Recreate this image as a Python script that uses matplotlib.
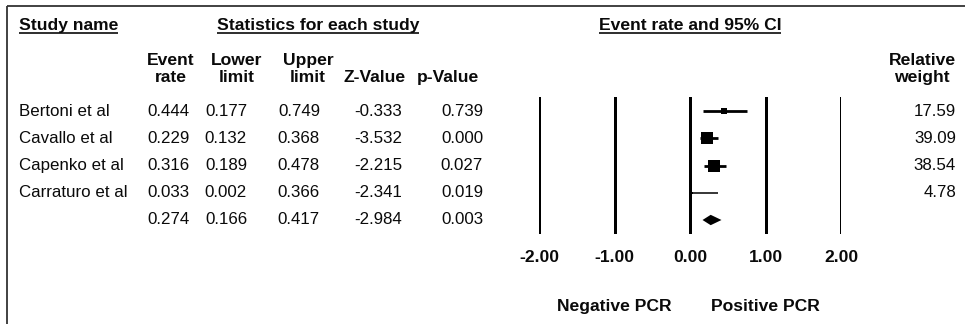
import matplotlib
matplotlib.use("Agg")
import matplotlib.pyplot as plt
import numpy as np

plt.rcParams['font.family'] = ['Liberation Sans', 'DejaVu Sans']

# ---- data ----
studies = ["Bertoni et al", "Cavallo et al", "Capenko et al", "Carraturo et al", ""]
event_rate = [0.444, 0.229, 0.316, 0.033, 0.274]
lower = [0.177, 0.132, 0.189, 0.002, 0.166]
upper = [0.749, 0.368, 0.478, 0.366, 0.417]
z_value = [-0.333, -3.532, -2.215, -2.341, -2.984]
p_value = [0.739, 0.000, 0.027, 0.019, 0.003]
rel_weight = [17.59, 39.09, 38.54, 4.78]
xticks = [-2.0, -1.0, 0.0, 1.0, 2.0]
tick_labels = ["-2.00", "-1.00", "0.00", "1.00", "2.00"]
col_heads = [("Event", "rate"), ("Lower", "limit"), ("Upper", "limit"), ("", "Z-Value"), ("", "p-Value")]

W, H = 965, 324
fig = plt.figure(figsize=(W / 100, H / 100), dpi=100)
fig.patch.set_facecolor("white")

# overlay axes in pixel coordinates for table text
tax = fig.add_axes([0, 0, 1, 1])
tax.set_xlim(0, W)
tax.set_ylim(H, 0)
tax.axis("off")

FS = 12.2
HFS = 12.6
col = "#0a0a0a"

# border (top and left)
tax.plot([7, W], [6, 6], color="#333333", lw=1.3, solid_capstyle="butt")
tax.plot([7, 7], [6, H], color="#333333", lw=1.3, solid_capstyle="butt")

# section headers with underline
headers = [("Study name", 19, "left"), ("Statistics for each study", 318, "center"),
           ("Event rate and 95% CI", 690, "center")]
htexts = []
for txt, x, ha in headers:
    t = tax.text(x, 30, txt, ha=ha, va="baseline", fontsize=HFS, fontweight="bold", color=col)
    htexts.append(t)

# column headers
col_x_right = [190, 247, 320, 402, 483]
col_x_center = [171, 237, 308, 375, 448]
for (l1, l2), xc in zip(col_heads, col_x_center):
    if l1:
        tax.text(xc, 65, l1, ha="center", va="baseline", fontsize=HFS, fontweight="bold", color=col)
    tax.text(xc, 82, l2, ha="center", va="baseline", fontsize=HFS, fontweight="bold", color=col)
tax.text(922, 65, "Relative", ha="center", va="baseline", fontsize=HFS, fontweight="bold", color=col)
tax.text(922, 82, "weight", ha="center", va="baseline", fontsize=HFS, fontweight="bold", color=col)

row_y = [111 + 27.25 * i for i in range(len(studies))]
for i, y in enumerate(row_y):
    tax.text(19, y, studies[i], ha="left", va="center", fontsize=FS, color=col)
    vals = [f"{event_rate[i]:.3f}", f"{lower[i]:.3f}", f"{upper[i]:.3f}",
            f"{z_value[i]:.3f}", f"{p_value[i]:.3f}"]
    for v, xr in zip(vals, col_x_right):
        tax.text(xr, y, v, ha="right", va="center", fontsize=FS, color=col)
    if i < len(rel_weight):
        tax.text(956, y, f"{rel_weight[i]:.2f}", ha="right", va="center", fontsize=FS, color=col)

# forest axes
x_left, x_right = 539, 841
y_top, y_bot = 97, 234
fax = fig.add_axes([x_left / W, (H - y_bot) / H, (x_right - x_left) / W, (y_bot - y_top) / H])
fax.set_xlim(-2, 2)
n = len(studies)
pad_top = (row_y[0] - y_top) / 27.25
pad_bot = (y_bot - row_y[-1]) / 27.25
fax.set_ylim(n - 1 + pad_bot, -pad_top)
fax.axis("off")
fax.patch.set_alpha(0)
for xt in xticks:
    fax.axvline(xt, color="black", lw=2.16, snap=True)
for i in range(len(rel_weight)):
    lw = 2.0 if rel_weight[i] > 10 else 1.1
    fax.plot([lower[i], upper[i]], [i, i], color="black", lw=lw, solid_capstyle="butt")
    ms = 0.78 * rel_weight[i] ** 0.75 * 0.72
    fax.plot(event_rate[i], i, marker="s", color="black", ms=ms, mew=0)
# summary diamond
s = n - 1
dh = 0.19
fax.fill([lower[s], event_rate[s], upper[s], event_rate[s]], [s, s - dh, s, s + dh],
         color="black", lw=0)

# tick labels and direction labels
for xt, lab in zip(xticks, tick_labels):
    fax.text(xt, -0.17, lab, transform=fax.get_xaxis_transform(), ha="center", va="center",
             fontsize=HFS, fontweight="bold", color=col, clip_on=False)
fax.text(-1.0, -0.53, "Negative PCR", transform=fax.get_xaxis_transform(), ha="center",
         va="center", fontsize=HFS, fontweight="bold", color=col, clip_on=False)
fax.text(1.0, -0.53, "Positive PCR", transform=fax.get_xaxis_transform(), ha="center",
         va="center", fontsize=HFS, fontweight="bold", color=col, clip_on=False)

# underlines for section headers
fig.canvas.draw()
r = fig.canvas.get_renderer()
for t in htexts:
    bb = t.get_window_extent(renderer=r)
    tax.plot([bb.x0, bb.x1], [33, 33], color=col, lw=1.2, solid_capstyle="butt")

fig.savefig("out.png", dpi=100, facecolor="white")
